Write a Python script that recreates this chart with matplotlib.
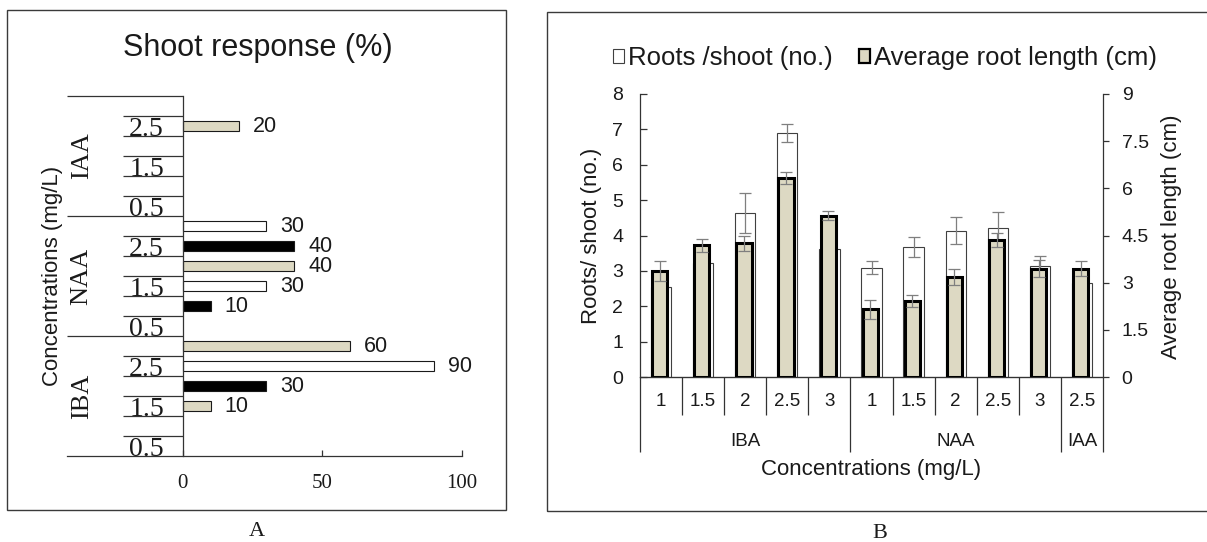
import matplotlib

matplotlib.use("Agg")
import matplotlib.pyplot as plt
import numpy as np
from matplotlib.patches import Patch, Rectangle

# ---- panel A: shoot response (%) per auxin / concentration ----
conc_levels = ["0.5", "1", "1.5", "2", "2.5", "3"]
auxins = ["IBA", "NAA", "IAA"]
iba_shoot = [None, None, 10, 30, 90, 60]
naa_shoot = [None, 10, 30, 40, 40, 30]
iaa_shoot = [None, None, None, None, 20, None]

# ---- panel B: rooting ----
conc_b = ["1", "1.5", "2", "2.5", "3", "1", "1.5", "2", "2.5", "3", "2.5"]
group_b = ["IBA", "NAA", "IAA"]
group_size_b = [5, 5, 1]
roots_per_shoot = [2.55, 3.21, 4.64, 6.90, 3.62, 3.09, 3.68, 4.14, 4.22, 3.15, 2.67]
roots_err = [0.30, 0.30, 0.57, 0.26, 0.30, 0.18, 0.28, 0.37, 0.45, 0.28, 0.30]
root_length = [3.37, 4.19, 4.26, 6.34, 5.13, 2.15, 2.42, 3.18, 4.35, 3.45, 3.45]
root_length_err = [0.31, 0.21, 0.24, 0.19, 0.15, 0.29, 0.19, 0.24, 0.22, 0.27, 0.24]

BEIGE = "#DDD9C3"
W, H = 1207, 542
SANS = ["Liberation Sans", "DejaVu Sans"]
SERIF = ["Liberation Serif", "DejaVu Serif"]
TXT = "#1a1a1a"

plt.rcParams["font.family"] = SANS
plt.rcParams["text.color"] = TXT
plt.rcParams["xtick.color"] = "#333333"
plt.rcParams["ytick.color"] = "#333333"
plt.rcParams["xtick.labelcolor"] = TXT
plt.rcParams["ytick.labelcolor"] = TXT


def fx(x):
    return x / W


def fy(y):
    return 1 - y / H


def box(x0, y0, x1, y1):
    """Axes rect from pixel corners (top-left origin)."""
    return [fx(x0), fy(y1), (x1 - x0) / W, (y1 - y0) / H]


fig = plt.figure(figsize=(W / 100, H / 100), dpi=100)

# panel frames
for x0, y0, x1, y1 in [(7, 10, 506, 510), (547, 12, 1212, 511)]:
    fig.add_artist(Rectangle((fx(x0), fy(y1)), (x1 - x0) / W, (y1 - y0) / H,
                             transform=fig.transFigure, fill=False,
                             edgecolor="#3a3a3a", linewidth=1.0))

# ================= panel A =================
axA = fig.add_axes(box(66.7, 96, 461.7, 456))
x_left = -(182.7 - 66.7) / 2.79
axA.set_xlim(x_left, 100)
n_rows = len(conc_levels) * len(auxins)
axA.set_ylim(0, n_rows)

bar_colors = {"IBA": [None, None, BEIGE, "black", "white", BEIGE],
              "NAA": [None, "black", "white", BEIGE, "black", "white"],
              "IAA": [None, None, None, None, BEIGE, None]}
for g, (name, vals) in enumerate(zip(auxins, [iba_shoot, naa_shoot, iaa_shoot])):
    for j, v in enumerate(vals):
        if v is None:
            continue
        y = g * len(conc_levels) + j + 0.5
        axA.barh(y, v, height=0.5, color=bar_colors[name][j],
                 edgecolor="#1a1a1a", linewidth=0.8)
        axA.annotate(str(v), (v, y), xytext=(10, 0), textcoords="offset points",
                     va="center", ha="left", fontsize=15.5)

for s in ["top", "right"]:
    axA.spines[s].set_visible(False)
axA.spines["left"].set_position(("data", 0))
for s in ["left", "bottom"]:
    axA.spines[s].set_color("#333333")
    axA.spines[s].set_linewidth(0.9)

major_y = [g * 6 + j + 0.5 for g in range(3) for j in (0, 2, 4)]
axA.set_yticks(major_y, [conc_levels[j] for _ in range(3) for j in (0, 2, 4)])
axA.set_yticks([k for k in range(1, n_rows) if k % 6], minor=True)
axA.tick_params(axis="y", which="major", length=0, pad=13.5, labelsize=20,
                labelfontfamily="Liberation Serif")
axA.tick_params(axis="y", which="minor", length=43.5, width=0.9, direction="out")
axA.hlines([6, 12, 18], x_left, 0, colors="#333333", linewidth=0.9, clip_on=False)

axA.set_xticks([0, 50, 100])
axA.tick_params(axis="x", direction="in", length=4.5, width=0.9, pad=13,
                labelsize=15, labelfontfamily="Liberation Serif")

for g, name in enumerate(auxins):
    axA.text((81.7 - 182.7) / 2.79, g * 6 + 3, name, rotation=90, ha="center",
             va="center", fontsize=19, family=SERIF)

fig.text(fx(52.3), fy(276), "Concentrations (mg/L)", rotation=90, ha="center",
         va="center", fontsize=16)
fig.text(fx(258), fy(48), "Shoot response (%)", ha="center", va="center", fontsize=22)
fig.text(fx(257), fy(532), "A", ha="center", va="center", fontsize=16, family=SERIF)

# ================= panel B =================
axB = fig.add_axes(box(640, 94, 1103, 377))
x = np.arange(len(conc_b))
err_style = dict(ecolor="#7f7f7f", elinewidth=0.9, capsize=4.5, capthick=0.9)
axB.bar(x, roots_per_shoot, width=0.48, color="white", edgecolor="#404040",
        linewidth=0.8, yerr=roots_err, error_kw=err_style)
axB.set_xlim(-0.5, len(conc_b) - 0.5)
axB.set_ylim(0, 8)
axB.set_yticks(range(0, 9))
axB.tick_params(axis="y", direction="in", length=5, width=0.9, pad=12, labelsize=14)
for s in ["top", "right"]:
    axB.spines[s].set_visible(False)
for s in ["left", "bottom"]:
    axB.spines[s].set_color("#333333")
    axB.spines[s].set_linewidth(0.9)

axB.set_xticks(x, conc_b)
axB.set_xticks([i + 0.5 for i in range(len(conc_b) - 1) if i not in (4, 9)], minor=True)
axB.tick_params(axis="x", which="major", length=0, pad=11.5, labelsize=13.5)
axB.tick_params(axis="x", which="minor", length=27.4, width=0.9, direction="out")

edges = np.concatenate([[0], np.cumsum(group_size_b)]) - 0.5
sec = axB.secondary_xaxis("bottom")
sec.set_xticks(edges, [""] * len(edges))
sec.set_xticks((edges[:-1] + edges[1:]) / 2, group_b, minor=True)
sec.tick_params(axis="x", which="major", length=54, width=0.9, direction="out")
sec.tick_params(axis="x", which="minor", length=0, pad=40, labelsize=13.5)
sec.spines["bottom"].set_color("#333333")

axR = axB.twinx()
axR.bar(x - 0.03, root_length, width=0.36, color=BEIGE, edgecolor="black",
        linewidth=2.2, yerr=root_length_err, error_kw=err_style)
axR.set_ylim(0, 9)
axR.set_yticks(np.arange(0, 9.1, 1.5), ["0", "1.5", "3", "4.5", "6", "7.5", "9"])
axR.tick_params(axis="y", direction="out", length=4.5, width=0.9, pad=9, labelsize=14)
for s in ["top", "left", "bottom"]:
    axR.spines[s].set_visible(False)
axR.spines["right"].set_color("#333333")
axR.spines["right"].set_linewidth(0.9)

fig.text(fx(591.7), fy(236), "Roots/ shoot (no.)", rotation=90, ha="center",
         va="center", fontsize=16)
fig.text(fx(1171.7), fy(236.5), "Average root length (cm)", rotation=90,
         ha="center", va="center", fontsize=16)
fig.text(fx(871.5), fy(470), "Concentrations (mg/L)", ha="center", va="center",
         fontsize=16)
fig.text(fx(880), fy(533), "B", ha="center", va="center", fontsize=16, family=SERIF)

handles = [Patch(facecolor="white", edgecolor="#404040", linewidth=0.8),
           Patch(facecolor=BEIGE, edgecolor="black", linewidth=1.6)]
fig.legend(handles, ["Roots /shoot (no.)", "Average root length (cm)"],
           loc="center", bbox_to_anchor=(fx(885), fy(58)), ncol=2, frameon=False,
           fontsize=18.5, handlelength=0.45, handleheight=0.45,
           handletextpad=0.15, columnspacing=1.0, borderpad=0)

fig.savefig("out.png", dpi=100)
